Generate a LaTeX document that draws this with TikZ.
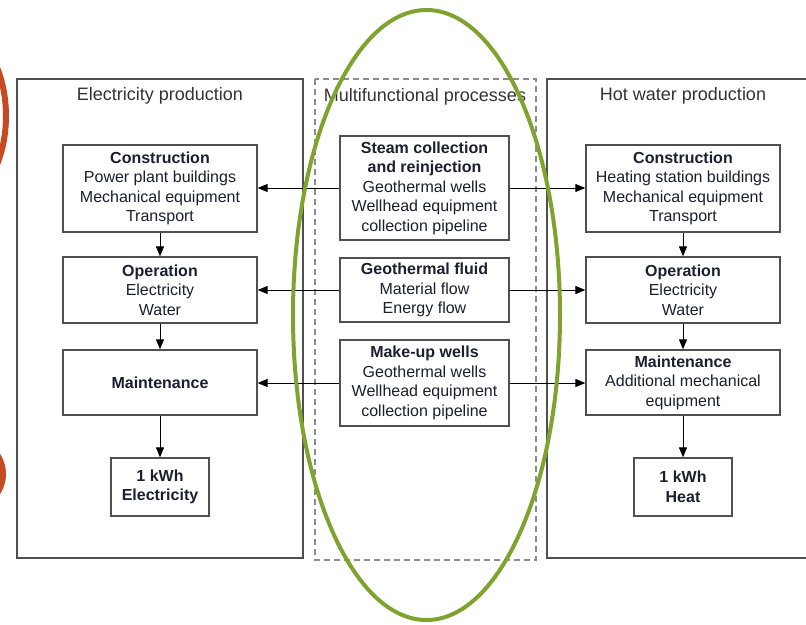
\documentclass[tikz,border=0pt]{standalone}
\usepackage{fontspec}
\setmainfont{Liberation Sans}
\usetikzlibrary{arrows.meta,positioning}
\definecolor{lcaInk}{HTML}{1E1E30}
\definecolor{lcaFrame}{HTML}{505050}
\definecolor{lcaTitle}{HTML}{333333}
\definecolor{lcaDash}{HTML}{8C8C8C}
\definecolor{lcaGreen}{HTML}{7FA32E}
\definecolor{lcaRust}{HTML}{C64B22}
\tikzset{
  proc/.style={draw=lcaFrame, line width=1.3pt, fill=white, minimum width=194pt, inner sep=0pt, font=\fontsize{16}{19.5}\selectfont, text=lcaInk, align=center},
  procM/.style={proc, minimum width=169pt},
  procK/.style={proc, minimum width=98pt, minimum height=58pt},
  frame/.style={draw=lcaFrame, line width=1.4pt},
  frameD/.style={draw=lcaDash, line width=1.2pt, dash pattern=on 6pt off 4pt},
  ttl/.style={font=\fontsize{18}{21}\selectfont, text=lcaTitle},
  arr/.style={-{Triangle[length=10pt,width=8pt]}, line width=1pt, draw=black},
}

\begin{document}
\begin{tikzpicture}[x=1pt, y=-1pt]
  \useasboundingbox (0,0) rectangle (806,624);
  \clip (0,0) rectangle (806,624);
  % cut-off ellipses at the left edge
  \draw[lcaRust, line width=6pt] (-58,116) ellipse [x radius=64, y radius=95];
  \draw[lcaRust, line width=6pt] (-58,474) ellipse [x radius=61, y radius=45];
  % frames
  \draw[frame] (17,79) rectangle (303,558);
  \draw[frameD] (315,79) rectangle (536,560);
  \draw[frame] (547,79) rectangle (830,558);
  \node[ttl] (ttlL) at (160,96) {Electricity production};
  \node[ttl] (ttlM) at (425,97) {Multifunctional processes};
  \node[ttl] (ttlR) at (683,96) {Hot water production};
  % electricity production
  \node[proc, minimum height=87pt] (cnsL) at (160,188.5) {\textbf{Construction}\\Power plant buildings\\Mechanical equipment\\Transport};
  \node[proc, minimum height=66pt] (opL) at (160,290) {\textbf{Operation}\\Electricity\\Water};
  \node[proc, minimum height=65pt] (mntL) at (160,382.5) {\textbf{Maintenance}};
  \node[procK] (kwhL) at (160,487) {\textbf{1 kWh}\\\textbf{Electricity}};
  % multifunctional processes
  \node[procM, minimum height=104pt] (steam) at (424.5,188) {\textbf{Steam collection}\\\textbf{and reinjection}\\Geothermal wells\\Wellhead equipment\\collection pipeline};
  \node[procM, minimum height=64pt] (fluid) at (424.5,290) {\textbf{Geothermal fluid}\\Material flow\\Energy flow};
  \node[procM, minimum height=86pt] (mkup) at (424.5,383) {\textbf{Make-up wells}\\Geothermal wells\\Wellhead equipment\\collection pipeline};
  % hot water production
  \node[proc, minimum height=87pt] (cnsR) at (683,188.5) {\textbf{Construction}\\Heating station buildings\\Mechanical equipment\\Transport};
  \node[proc, minimum height=66pt] (opR) at (683,290) {\textbf{Operation}\\Electricity\\Water};
  \node[proc, minimum height=65pt] (mntR) at (683,382.5) {\textbf{Maintenance}\\Additional mechanical\\equipment};
  \node[procK] (kwhR) at (683,487) {\textbf{1 kWh}\\\textbf{Heat}};
  % connectors
  \draw[arr] (cnsL.south) -- (opL.north);
  \draw[arr] (opL.south) -- (mntL.north);
  \draw[arr] (mntL.south) -- (kwhL.north);
  \draw[arr] (cnsR.south) -- (opR.north);
  \draw[arr] (opR.south) -- (mntR.north);
  \draw[arr] (mntR.south) -- (kwhR.north);
  \foreach \m/\l/\r in {steam/cnsL/cnsR, fluid/opL/opR, mkup/mntL/mntR} {
    \draw[arr] (\m.west) -- (\m.west -| \l.east);
    \draw[arr] (\m.east) -- (\m.east -| \r.west);
  }
  % highlight
  \draw[lcaGreen, line width=4pt] (426.5,315) ellipse [x radius=133.5, y radius=305];
\end{tikzpicture}
\end{document}
